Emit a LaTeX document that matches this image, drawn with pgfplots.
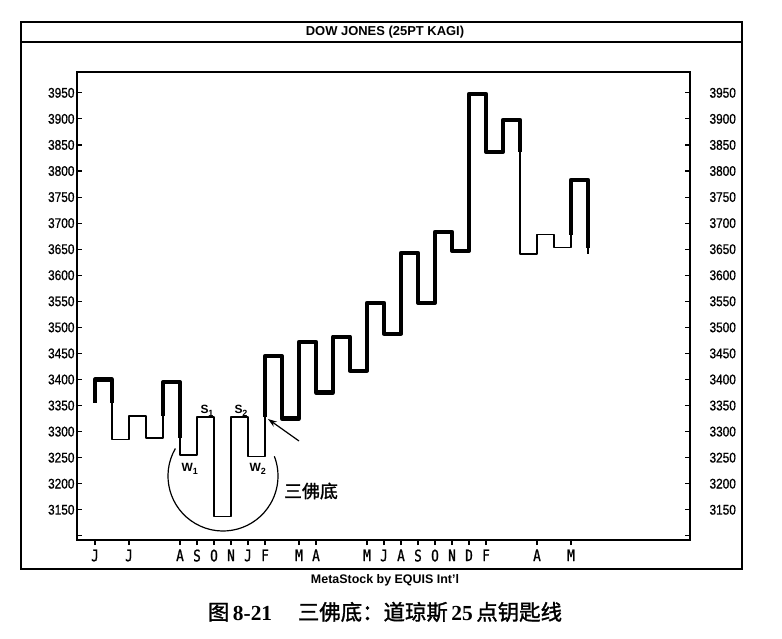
\documentclass[border=0pt]{standalone}
\usepackage{pgfplots}
\pgfplotsset{compat=1.18}
\usepackage{fontspec}
\setmainfont{Liberation Sans}
\newfontfamily\narrowsans[FakeStretch=0.85,FakeBold=0.8]{Liberation Sans}
\newfontfamily\monofont[FakeStretch=0.8,FakeBold=1]{DejaVu Sans Mono}
\newfontfamily\cjk{Noto Sans CJK SC}
\newfontfamily\cjkb[FakeBold=1.5]{Noto Sans CJK SC}
\newfontfamily\serifnum{Liberation Serif}
\usetikzlibrary{arrows.meta}

\begin{document}
\begin{tikzpicture}
\path[use as bounding box] (0,0) rectangle (782bp,-639bp);
\pgfplotsset{kagi/.style={width=613bp,height=468bp,scale only axis,
  xmin=-1.0588,xmax=35,ymin=3092,ymax=3990,
  at={(77bp,-540bp)},anchor=south west,
  axis line style={line width=1.4bp},
  tick style={line width=1.1bp,black},
  major tick length=5bp,
  /pgf/number format/1000 sep={},
  /pgf/number format/assume math mode=true,
  scaled y ticks=false},
  thick kagi/.style={black,line width=4.2bp,line join=round,no markers},
  thin kagi/.style={black,line width=1.4bp,line join=round,no markers}}

% data axis with month ticks
\begin{axis}[kagi,
  xtick={0,2,5,6,7,8,9,10,12,13,16,17,18,19,20,21,22,23,26,28},
  xticklabels={J,J,A,S,O,N,J,F,M,A,M,J,A,S,O,N,D,F,A,M},
  xtick pos=left, tick align=outside, ytick=\empty,
  xticklabel style={font=\monofont\fontsize{16}{16}\selectfont,yshift=-1bp}]
\addplot[thick kagi] coordinates {(0,3355)(0,3400)(1,3400)(1,3355)};
\addplot[thin kagi] coordinates {(1,3355)(1,3285)(2,3285)(2,3330)(3,3330)(3,3288)(4,3288)(4,3330)};
\addplot[thick kagi] coordinates {(4,3330)(4,3395)(5,3395)(5,3288)};
\addplot[thin kagi] coordinates {(5,3288)(5,3255)(6,3255)(6,3328)(7,3328)(7,3137)(8,3137)(8,3328)(9,3328)(9,3252)(10,3252)(10,3328)};
\addplot[thick kagi] coordinates {(10,3328)(10,3445)(11,3445)(11,3325)(12,3325)(12,3472)(13,3472)(13,3375)(14,3375)(14,3482)(15,3482)(15,3417)(16,3417)(16,3547)(17,3547)(17,3488)(18,3488)(18,3643)(19,3643)(19,3547)(20,3547)(20,3683)(21,3683)(21,3647)(22,3647)(22,3948)(23,3948)(23,3837)(24,3837)(24,3898)(25,3898)(25,3837)};
\addplot[thin kagi] coordinates {(25,3837)(25,3641)(26,3641)(26,3678)(27,3678)(27,3653)(28,3653)(28,3678)};
\addplot[thick kagi] coordinates {(28,3678)(28,3783)(29,3783)(29,3653)};
\addplot[thin kagi] coordinates {(29,3653)(29,3641)};
\end{axis}

% left y axis labels
\begin{axis}[kagi, xtick=\empty,
  ytick={3150,3200,...,3950}, ytick pos=left, tick align=inside,
  extra y ticks={3100}, extra y tick labels={},
  yticklabel style={font=\narrowsans\fontsize{14}{14}\selectfont,xshift=1bp}]
\end{axis}

% right y axis labels
\begin{axis}[kagi, axis x line=none, axis y line*=right,
  ytick={3150,3200,...,3950}, tick align=inside,
  extra y ticks={3100}, extra y tick labels={},
  yticklabel style={font=\narrowsans\fontsize{14}{14}\selectfont,xshift=16bp}]
\end{axis}

\begin{scope}[x=1bp,y=-1bp]
\draw[line width=1.5bp] (21,22) rectangle (742,569);
\draw[line width=1.5bp] (21,42) -- (742,42);
\node[font=\bfseries\fontsize{13}{14}\selectfont] at (385,32) {DOW JONES (25PT KAGI)};
\node[font=\bfseries\fontsize{12.5}{13}\selectfont] at (385,580) {MetaStock by EQUIS Int'l};
\node[font=\fontsize{21.5}{22}\selectfont] at (385,612)
  {{\cjkb 图}\,{\serifnum\bfseries 8-21}\hspace{1.2em}{\cjkb 三佛底：道琼斯}\,{\serifnum\bfseries 25}\,{\cjkb 点钥匙线}};
% annotations
\draw[line width=1.2bp] (223,476) ++(-150:55) arc[start angle=-150,end angle=-381,radius=55];
\draw[line width=1.2bp,-{Stealth[length=9bp,width=6bp]}] (299,441) -- (268,419);
\node[font=\cjkb\fontsize{18}{18}\selectfont] at (311,491) {三佛底};
\node[font=\bfseries\fontsize{12}{12}\selectfont,anchor=base west] at (197,413) {S\raisebox{-3bp}{\fontsize{9}{9}\selectfont 1}};
\node[font=\bfseries\fontsize{12}{12}\selectfont,anchor=base west] at (231,413) {S\raisebox{-3bp}{\fontsize{9}{9}\selectfont 2}};
\node[font=\bfseries\fontsize{12}{12}\selectfont,anchor=base west] at (178,471) {W\raisebox{-3bp}{\fontsize{9}{9}\selectfont 1}};
\node[font=\bfseries\fontsize{12}{12}\selectfont,anchor=base west] at (246,471) {W\raisebox{-3bp}{\fontsize{9}{9}\selectfont 2}};
\end{scope}
\end{tikzpicture}
\end{document}
